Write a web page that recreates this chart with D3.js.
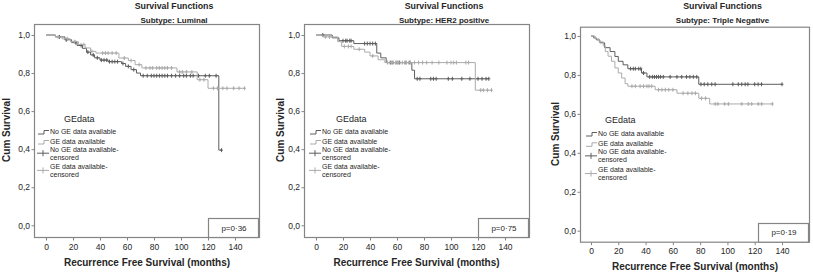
<!DOCTYPE html>
<html><head><meta charset="utf-8">
<script src="https://cdn.jsdelivr.net/npm/d3@7/dist/d3.min.js"></script>
<style>
html,body{margin:0;padding:0;background:#fff;}
svg{display:block;font-family:"Liberation Sans",Arial,sans-serif;}
</style></head>
<body><svg id="c" width="813" height="274"></svg>
<script>
// ---------- DATA ----------
const xTicks = [0, 20, 40, 60, 80, 100, 120, 140];
const yTicks = [0, 0.2, 0.4, 0.6, 0.8, 1.0];
const groupLabels = ["No GE data available", "GE data available"];
const legendTitle = "GEdata";
const subtitles = ["Subtype: Luminal", "Subtype: HER2 positive", "Subtype: Triple Negative"];
const pValues = ["p=0\u00b736", "p=0\u00b775", "p=0\u00b719"];

// Luminal
const lumNoGE_t = [0, 7, 14, 19, 23, 27, 30, 33, 36, 40, 46, 56, 59, 63, 67, 70, 128];
const lumNoGE_s = [1.0, 0.99, 0.975, 0.96, 0.945, 0.93, 0.91, 0.895, 0.88, 0.868, 0.86, 0.85, 0.835, 0.818, 0.80, 0.786, 0.395];
const lumNoGE_end = 130;
const lumNoGE_cens = [10, 15, 22, 26, 31, 35, 38, 41, 43, 45, 47, 49, 51, 53, 57, 61, 65, 72, 75, 78, 80, 82, 84, 86, 88, 90, 93, 96, 99, 102, 104, 107, 109, 113, 118, 121, 126, 130];
const lumGE_t = [0, 7, 12, 18, 24, 29, 33, 37, 54, 61, 66, 71, 97, 112, 120];
const lumGE_s = [1.0, 0.99, 0.98, 0.965, 0.95, 0.932, 0.914, 0.905, 0.879, 0.866, 0.844, 0.827, 0.806, 0.765, 0.72];
const lumGE_end = 147;
const lumGE_cens = [9, 16, 21, 28, 34, 42, 44, 46, 49, 52, 58, 63, 69, 74, 77, 79, 82, 84, 86, 88, 90, 93, 99, 101, 104, 108, 114, 117, 124, 127, 131, 134, 139, 143, 147];

// HER2 positive
const herNoGE_t = [0, 12, 17, 28, 45, 48, 52, 71, 73];
const herNoGE_s = [1.0, 0.985, 0.97, 0.955, 0.905, 0.88, 0.855, 0.815, 0.77];
const herNoGE_end = 128;
const herNoGE_cens = [5, 20, 22, 23, 25, 26, 36, 38, 40, 42, 44, 55, 57, 60, 62, 66, 69, 75, 77, 85, 87, 89, 98, 101, 108, 114, 120, 123, 126, 128];
const herGE_t = [0, 5, 16, 19, 28, 36, 40, 46, 51, 118];
const herGE_s = [1.0, 0.99, 0.965, 0.94, 0.925, 0.91, 0.89, 0.87, 0.855, 0.71];
const herGE_end = 130;
const herGE_cens = [7, 10, 21, 24, 26, 32, 42, 53, 56, 59, 61, 64, 67, 70, 73, 76, 79, 82, 86, 91, 97, 100, 102, 104, 111, 113, 122, 124, 127, 130];

// Triple negative
const tnNoGE_t = [0, 2, 4, 6.5, 10, 14, 17.5, 20, 23.5, 27, 37, 41, 79];
const tnNoGE_s = [1.0, 0.99, 0.98, 0.965, 0.94, 0.92, 0.895, 0.87, 0.852, 0.832, 0.81, 0.79, 0.752];
const tnNoGE_end = 140;
const tnNoGE_cens = [29, 31, 32.5, 35, 36.5, 38.5, 43, 45, 46.5, 48, 49.5, 51, 53, 58, 63, 66.5, 70, 72.5, 75, 77.5, 80.6, 83, 85.6, 88.5, 91, 104, 108, 110.5, 113, 115, 120, 122.5, 125, 140];
const tnGE_t = [0, 3, 6, 9, 10.5, 12.5, 15, 17.5, 20, 22.5, 25, 27, 47, 63, 79, 87];
const tnGE_s = [1.0, 0.985, 0.97, 0.95, 0.92, 0.896, 0.87, 0.836, 0.81, 0.784, 0.755, 0.742, 0.724, 0.706, 0.68, 0.651];
const tnGE_end = 133;
const tnGE_cens = [30, 32.5, 36, 38.5, 41, 42.5, 44.5, 49.5, 52, 54.5, 57, 60, 67.5, 71, 74, 76.5, 81, 84, 91, 93, 98, 100.7, 110.5, 115.3, 117.8, 122.6, 125.1, 132.9];

// ---------- LAYOUT ----------
const COL_DARK = "#5e5e5e", COL_LIGHT = "#ababab", FRAME = "#858585", TXT = "#262626";
const panels = [
  {sub: subtitles[0], p: pValues[0],
   series: [{t: lumNoGE_t, s: lumNoGE_s, end: lumNoGE_end, c: lumNoGE_cens}, {t: lumGE_t, s: lumGE_s, end: lumGE_end, c: lumGE_cens}],
   fx: [34, 259], fy: [24, 237], xr: [46, 235], yr: [225.3, 35], titleX: 174, titleY: 8.5, subY: 22.5,
   ylabX: 9.5, ylabY: 130, xlabX: 147, xlabY: 265.5, legX: 50, legY: 131.5, legStep: 1, gx: 64, gy: 121.5,
   pbox: [208, 218, 50, 19]},
  {sub: subtitles[1], p: pValues[1],
   series: [{t: herNoGE_t, s: herNoGE_s, end: herNoGE_end, c: herNoGE_cens}, {t: herGE_t, s: herGE_s, end: herGE_end, c: herGE_cens}],
   fx: [304, 529], fy: [24, 237], xr: [316, 505], yr: [225.3, 35], titleX: 444, titleY: 8.5, subY: 22.5,
   ylabX: 283.5, ylabY: 130, xlabX: 416.5, xlabY: 265.5, legX: 322, legY: 131.5, legStep: 1, gx: 336, gy: 121.5,
   pbox: [478, 218, 50, 19]},
  {sub: subtitles[2], p: pValues[2],
   series: [{t: tnNoGE_t, s: tnNoGE_s, end: tnNoGE_end, c: tnNoGE_cens}, {t: tnGE_t, s: tnGE_s, end: tnGE_end, c: tnGE_cens}],
   fx: [580, 809], fy: [26.7, 241.7], xr: [591, 782], yr: [230.7, 36], titleX: 722.5, titleY: 8.5, subY: 23,
   ylabX: 558.5, ylabY: 134, xlabX: 695, xlabY: 269.5, legX: 598, legY: 133.5, legStep: 1.03, gx: 605, gy: 122.5,
   pbox: [758, 223, 50, 18.7]}
];

const svg = d3.select("#c");
svg.append("rect").attr("width", 813).attr("height", 274).attr("fill", "#fff");

panels.forEach(P => {
  const g = svg.append("g");
  const x = d3.scaleLinear().domain([0, 140]).range(P.xr);
  const y = d3.scaleLinear().domain([0, 1]).range(P.yr);

  // frame
  g.append("rect").attr("x", P.fx[0] + 0.5).attr("y", P.fy[0] + 0.5)
    .attr("width", P.fx[1] - P.fx[0]).attr("height", P.fy[1] - P.fy[0])
    .attr("fill", "none").attr("stroke", FRAME).attr("stroke-width", 1.2);

  // axes
  const yAx = g.append("g").attr("transform", `translate(${P.fx[0] + 0.5},0)`)
    .call(d3.axisLeft(y).tickValues(yTicks).tickSize(3).tickPadding(1.5)
      .tickFormat(d => d3.format(".1f")(d).replace(".", ",")));
  const xAx = g.append("g").attr("transform", `translate(0,${P.fy[1] + 0.5})`)
    .call(d3.axisBottom(x).tickValues(xTicks).tickSize(3).tickPadding(3));
  [yAx, xAx].forEach(a => {
    a.select(".domain").remove();
    a.selectAll("line").attr("stroke", FRAME);
    a.selectAll("text").attr("fill", TXT).attr("font-size", "8.5px")
      .attr("font-family", "Liberation Sans, Arial, sans-serif");
  });

  // titles
  g.append("text").attr("x", P.titleX).attr("y", P.titleY).attr("text-anchor", "middle")
    .attr("font-weight", "bold").attr("font-size", "8.8px").attr("fill", TXT).text("Survival Functions");
  g.append("text").attr("x", P.titleX).attr("y", P.subY).attr("text-anchor", "middle")
    .attr("font-weight", "bold").attr("font-size", "8px").attr("fill", TXT).text(P.sub);
  g.append("text").attr("transform", `translate(${P.ylabX},${P.ylabY}) rotate(-90)`).attr("text-anchor", "middle")
    .attr("font-weight", "bold").attr("font-size", "10px").attr("fill", TXT).text("Cum Survival");
  g.append("text").attr("x", P.xlabX).attr("y", P.xlabY).attr("text-anchor", "middle")
    .attr("font-weight", "bold").attr("font-size", "10px").attr("fill", TXT).text("Recurrence Free Survival (months)");

  // curves
  const line = d3.line().x(d => x(d[0])).y(d => y(d[1])).curve(d3.curveStepAfter);
  const cols = [COL_DARK, COL_LIGHT];
  P.series.forEach((S, i) => {
    const pts = S.t.map((t, k) => [t, S.s[k]]);
    pts.push([S.end, S.s[S.s.length - 1]]);
    g.append("path").attr("d", line(pts)).attr("fill", "none")
      .attr("stroke", cols[i]).attr("stroke-width", 1);
    const surv = t => S.s[Math.max(0, d3.bisectRight(S.t, t) - 1)];
    S.c.forEach(t => {
      const cx = x(t), cy = y(surv(t));
      g.append("path").attr("d", `M${cx - 1.5},${cy}H${cx + 1.5}M${cx},${cy - 2}V${cy + 2}`)
        .attr("stroke", cols[i]).attr("stroke-width", 1).attr("fill", "none");
    });
  });

  // legend
  g.append("text").attr("x", P.gx).attr("y", P.gy).attr("font-size", "9px").attr("fill", TXT).text(legendTitle);
  const lx = P.legX, ly = P.legY, k = P.legStep;
  const rows = [
    {lines: [groupLabels[0]], c: COL_DARK, type: "step", yy: ly},
    {lines: [groupLabels[1]], c: COL_LIGHT, type: "step", yy: ly + 10 * k},
    {lines: [groupLabels[0] + "-", "censored"], c: COL_DARK, type: "cens", yy: ly + 17.8 * k},
    {lines: [groupLabels[1] + "-", "censored"], c: COL_LIGHT, type: "cens", yy: ly + 35 * k}
  ];
  rows.forEach(r => {
    r.lines.forEach((s, j) => {
      g.append("text").attr("x", lx).attr("y", r.yy + 2.5 + j * 7.8 * k).attr("font-size", "7px")
        .attr("fill", TXT).text(s);
    });
    if (r.type === "step") {
      const sy = r.yy;
      g.append("path").attr("d", `M${lx - 12},${sy + 2.5}H${lx - 6}V${sy - 1}H${lx - 1}`)
        .attr("stroke", r.c).attr("fill", "none").attr("stroke-width", 1);
    } else {
      const sy = r.yy + 3.9 * k;
      g.append("path").attr("d", `M${lx - 13},${sy}H${lx - 1}M${lx - 7},${sy - 3}V${sy + 3}`)
        .attr("stroke", r.c).attr("fill", "none").attr("stroke-width", 1);
    }
  });

  // p box
  g.append("rect").attr("x", P.pbox[0] + 0.5).attr("y", P.pbox[1] + 0.5).attr("width", P.pbox[2]).attr("height", P.pbox[3])
    .attr("fill", "#fff").attr("stroke", FRAME).attr("stroke-width", 1.2);
  g.append("text").attr("x", P.pbox[0] + P.pbox[2] / 2 + 1).attr("y", P.pbox[1] + P.pbox[3] / 2 + 3)
    .attr("text-anchor", "middle").attr("font-size", "8px").attr("fill", TXT).text(P.p);
});
</script></body></html>
